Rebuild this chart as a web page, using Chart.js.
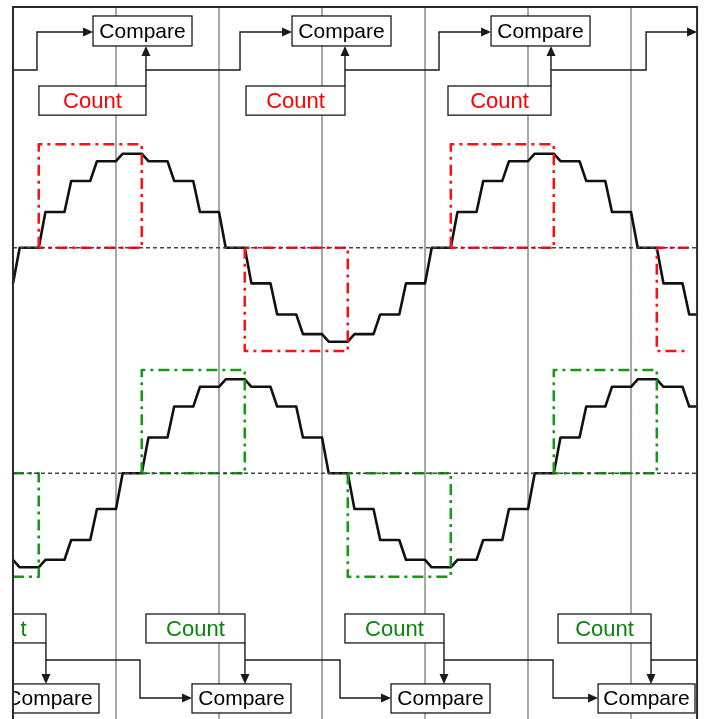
<!DOCTYPE html>
<html>
<head>
<meta charset="utf-8">
<script src="https://cdn.jsdelivr.net/npm/chart.js@4/dist/chart.umd.min.js"></script>
<style>
  html, body { margin: 0; padding: 0; background: #fff; }
  #wrap { width: 705px; height: 719px; position: relative; }
</style>
</head>
<body>
<div id="wrap"><canvas id="chartCanvas"></canvas></div>
<script>
// x is time in clock periods, y is signal level (1 = sine amplitude)
const clockTicks = [1, 2, 3, 4, 5, 6];
const sampleStep = 0.25;

// held sample levels, first entry is the sample before t = 0
const upperLevels = [-0.38, 0, 0.38, 0.71, 0.92, 1, 0.92, 0.71, 0.38, 0, -0.38, -0.71, -0.92, -1,
  -0.92, -0.71, -0.38, 0, 0.38, 0.71, 0.92, 1, 0.92, 0.71, 0.38, 0, -0.38, -0.71];
const lowerLevels = [-0.92, -1, -0.92, -0.71, -0.38, 0, 0.38, 0.71, 0.92, 1, 0.92, 0.71, 0.38, 0,
  -0.38, -0.71, -0.92, -1, -0.92, -0.71, -0.38, 0, 0.38, 0.71, 0.92, 1, 0.92, 0.71];

// count windows (dash-dot rectangles)
const redStarts = [0.25, 2.25, 4.25, 6.25];
const redSigns = [1, -1, 1, -1];
const greenStarts = [-0.75, 1.25, 3.25, 5.25];
const greenSigns = [-1, 1, -1, 1];
const pulseWidth = 1;
const pulseHeight = 1.1;

const upperZero = 1.2;
const lowerZero = -1.2;
const boxLabels = ['Compare', 'Count'];

// frame limits
const frameLeft = 0, frameRight = 6.641, frameTop = 3.761;
const slew = 0.065;

function stepPoints(levels, offset) {
  const pts = [{x: frameLeft, y: offset + levels[0]}];
  for (let i = 0; i < levels.length - 1; i++) {
    const t = i * sampleStep;
    const v = offset + levels[i + 1];
    pts.push({x: t + slew, y: v});
    pts.push({x: Math.min(t + sampleStep, frameRight), y: v});
  }
  return pts;
}

function pulsePoints(start, sign, offset, endLimit) {
  const s = Math.max(start, frameLeft);
  const e = Math.min(start + pulseWidth, endLimit);
  const h = offset + sign * pulseHeight;
  if (s > start) {
    return [{x: s, y: h}, {x: e, y: h}, {x: e, y: offset}, {x: s, y: offset}];
  }
  if (e < start + pulseWidth) {
    return [{x: e, y: offset}, {x: s, y: offset}, {x: s, y: h}, {x: e, y: h}];
  }
  return [{x: s, y: offset}, {x: s, y: h}, {x: e, y: h}, {x: e, y: offset}, {x: s, y: offset}];
}

const datasets = [];

// zero reference lines
[upperZero, lowerZero].forEach(z => {
  datasets.push({
    data: [{x: frameLeft, y: z}, {x: frameRight, y: z}],
    borderColor: '#444', borderWidth: 1.5, borderDash: [4, 3]
  });
});

redStarts.forEach((s, i) => {
  datasets.push({
    data: pulsePoints(s, redSigns[i], upperZero, 6.56),
    borderColor: '#ff1010', borderWidth: 2.5, borderDash: [11, 5, 3, 5]
  });
});
greenStarts.forEach((s, i) => {
  datasets.push({
    data: pulsePoints(s, greenSigns[i], lowerZero, frameRight),
    borderColor: '#139a13', borderWidth: 2.5, borderDash: [11, 5, 3, 5]
  });
});

datasets.push({ data: stepPoints(upperLevels, upperZero), borderColor: '#111', borderWidth: 2.6 });
datasets.push({ data: stepPoints(lowerLevels, lowerZero), borderColor: '#111', borderWidth: 2.6 });

// block diagram layout (data units)
const topCompare = { lefts: [0.777, 2.709, 4.641], width: 0.961, top: 3.665, bottom: 3.346 };
const topCount = { spans: [[0.252, 1.291], [2.262, 3.223], [4.223, 5.223]], top: 2.92, bottom: 2.61 };
const topLinks = { low: 3.09, high: 3.495, paths: [[-0.5, 0.233, 0.777], [1.291, 2.204, 2.709], [3.223, 4.136, 4.641], [5.223, 6.146, 6.641]] };
const botCount = { spans: [[-0.627, 0.320], [1.291, 2.252], [3.223, 4.184], [5.291, 6.194]], top: -2.697, bottom: -3.005 };
const botCompare = { spans: [[-0.126, 0.835], [1.738, 2.699], [3.670, 4.631], [5.680, 6.621]], top: -3.441, bottom: -3.750 };
const botLinks = { high: -3.186, low: -3.590, paths: [[0.320, 1.233, 1.738], [2.252, 3.175, 3.670], [4.184, 5.243, 5.680], [6.194, 7.5, 8]] };

const diagram = {
  id: 'diagram',
  beforeDatasetsDraw(chart) {
    const {ctx, scales: {x, y}} = chart;
    ctx.save();
    ctx.strokeStyle = '#a8a8a8';
    ctx.lineWidth = 2;
    clockTicks.forEach(t => {
      ctx.beginPath();
      ctx.moveTo(x.getPixelForValue(t), y.getPixelForValue(frameTop));
      ctx.lineTo(x.getPixelForValue(t), y.getPixelForValue(y.min));
      ctx.stroke();
    });
    ctx.restore();
  },
  afterDatasetsDraw(chart) {
    const {ctx, scales: {x, y}} = chart;
    const X = v => x.getPixelForValue(v), Y = v => y.getPixelForValue(v);
    ctx.save();
    ctx.beginPath();
    ctx.rect(X(frameLeft), 0, X(frameRight) - X(frameLeft), chart.height);
    ctx.clip();

    ctx.lineWidth = 1.4;
    ctx.strokeStyle = '#1a1a1a';
    ctx.fillStyle = '#1a1a1a';

    function poly(pts) {
      ctx.beginPath();
      ctx.moveTo(X(pts[0][0]), Y(pts[0][1]));
      for (let i = 1; i < pts.length; i++) ctx.lineTo(X(pts[i][0]), Y(pts[i][1]));
      ctx.stroke();
    }
    // arrow head, tip at (u,v), direction: 'r','u','d'
    function head(u, v, dir) {
      const px = X(u), py = Y(v), L = 10, W = 4.5;
      ctx.beginPath();
      ctx.moveTo(px, py);
      if (dir === 'r') { ctx.lineTo(px - L, py - W); ctx.lineTo(px - L, py + W); }
      if (dir === 'u') { ctx.lineTo(px - W, py + L); ctx.lineTo(px + W, py + L); }
      if (dir === 'd') { ctx.lineTo(px - W, py - L); ctx.lineTo(px + W, py - L); }
      ctx.closePath();
      ctx.fill();
    }
    function box(l, r, t, b, label, color, size, inset) {
      const px = X(l), py = Y(t), w = X(r) - X(l), h = Y(b) - Y(t);
      ctx.fillStyle = '#fff';
      ctx.fillRect(px, py, w, h);
      ctx.strokeStyle = '#1a1a1a';
      ctx.lineWidth = 1.3;
      ctx.strokeRect(px, py, w, h);
      ctx.save();
      if (inset) {
        const cl = X(frameLeft) + inset;
        ctx.beginPath();
        ctx.rect(cl, py, chart.width - cl, h);
        ctx.clip();
      }
      ctx.fillStyle = color;
      ctx.font = size + "px 'Liberation Sans', Arial, sans-serif";
      ctx.textAlign = 'center';
      ctx.textBaseline = 'middle';
      ctx.fillText(label, px + w / 2, py + h / 2 + 1);
      ctx.restore();
      ctx.fillStyle = '#1a1a1a';
    }

    // top connectors
    topLinks.paths.forEach(p => {
      poly([[p[0], topLinks.low], [p[1], topLinks.low], [p[1], topLinks.high], [p[2] - 0.09, topLinks.high]]);
      head(p[2], topLinks.high, 'r');
    });
    topCount.spans.forEach(s => {
      poly([[s[1], topCount.top], [s[1], topCompare.bottom - 0.09]]);
      head(s[1], topCompare.bottom, 'u');
    });
    // bottom connectors
    botLinks.paths.forEach(p => {
      poly([[p[0], botLinks.high], [p[1], botLinks.high], [p[1], botLinks.low], [p[2] - 0.09, botLinks.low]]);
      head(p[2], botLinks.low, 'r');
    });
    botCount.spans.forEach(s => {
      poly([[s[1], botCount.bottom], [s[1], botCompare.top + 0.09]]);
      head(s[1], botCompare.top, 'd');
    });

    topCompare.lefts.forEach(l => box(l, l + topCompare.width, topCompare.top, topCompare.bottom, boxLabels[0], '#000', 21, 0));
    topCount.spans.forEach(s => box(s[0], s[1], topCount.top, topCount.bottom, boxLabels[1], '#ff0000', 22, 0));
    botCount.spans.forEach(s => box(s[0], s[1], botCount.top, botCount.bottom, boxLabels[1], '#0a850a', 22, 6));
    botCompare.spans.forEach(s => box(s[0], s[1], botCompare.top, botCompare.bottom, boxLabels[0], '#000', 21, 0));
    ctx.restore();

    // frame
    ctx.save();
    ctx.strokeStyle = '#2a2a2a';
    ctx.lineWidth = 2;
    ctx.beginPath();
    ctx.moveTo(X(frameLeft), chart.height);
    ctx.lineTo(X(frameLeft), Y(frameTop));
    ctx.lineTo(X(frameRight), Y(frameTop));
    ctx.lineTo(X(frameRight), chart.height);
    ctx.stroke();
    ctx.restore();
  }
};

const chartCanvas = document.getElementById('chartCanvas');
new Chart(chartCanvas, {
  type: 'line',
  data: { datasets: datasets },
  options: {
    responsive: true,
    maintainAspectRatio: false,
    animation: false,
    layout: { padding: 0 },
    plugins: { legend: { display: false }, tooltip: { enabled: false } },
    elements: { point: { radius: 0 }, line: { tension: 0, borderJoinStyle: 'round' } },
    scales: {
      x: { type: 'linear', min: -0.126, max: 6.718, display: false },
      y: { type: 'linear', min: -3.814, max: 3.835, display: false }
    }
  },
  plugins: [diagram]
});
</script>
</body>
</html>
